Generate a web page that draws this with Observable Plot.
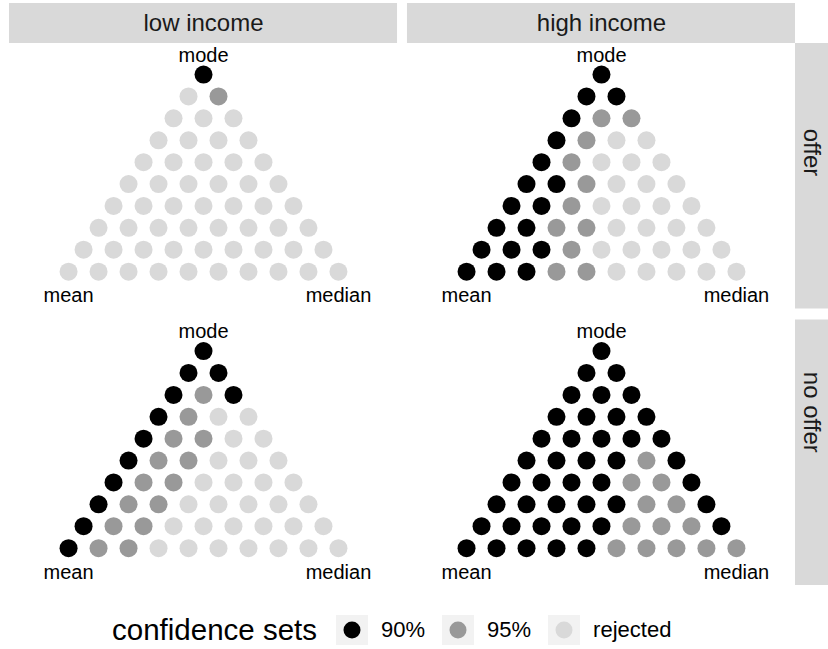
<!DOCTYPE html>
<html>
<head>
<meta charset="utf-8">
<script src="https://cdn.jsdelivr.net/npm/d3@7"></script>
<script src="https://cdn.jsdelivr.net/npm/@observablehq/plot@0.6"></script>
<style>
  body { margin: 0; background: #fff; font-family: "Liberation Sans", Arial, sans-serif; }
  #chart svg { display: block; }
  #legend { display: flex; align-items: center; height: 30px; margin-top: 25px; padding-left: 112px; color: #000; }
  #legend .title { font-size: 29.5px; margin-right: 19px; }
  #legend .key { width: 32px; height: 30px; background: #f2f2f2; margin-right: 13px; }
  #legend .lab { font-size: 22px; margin-right: 17px; }
</style>
</head>
<body>
<div id="chart"></div>
<div id="legend"></div>
<script>
// ---- data ----
const incomes = ["low income", "high income"];
const offers = ["offer", "no offer"];
const confidenceSets = ["90%", "95%", "rejected"];
const setColors = ["#000000", "#999999", "#d9d9d9"];
const topLabel = ["mode"];
const baseLabels = ["mean", "median"];

// codes: 0 = 90%, 1 = 95%, 2 = rejected ; rows from the mode (top) down to the mean–median base
const lowIncomeOffer = [
  [0],
  [2, 1],
  [2, 2, 2],
  [2, 2, 2, 2],
  [2, 2, 2, 2, 2],
  [2, 2, 2, 2, 2, 2],
  [2, 2, 2, 2, 2, 2, 2],
  [2, 2, 2, 2, 2, 2, 2, 2],
  [2, 2, 2, 2, 2, 2, 2, 2, 2],
  [2, 2, 2, 2, 2, 2, 2, 2, 2, 2]
];
const highIncomeOffer = [
  [0],
  [0, 0],
  [0, 1, 1],
  [0, 1, 2, 2],
  [0, 1, 2, 2, 2],
  [0, 0, 1, 2, 2, 2],
  [0, 0, 1, 2, 2, 2, 2],
  [0, 0, 1, 1, 2, 2, 2, 2],
  [0, 0, 0, 1, 2, 2, 2, 2, 2],
  [0, 0, 0, 1, 1, 2, 2, 2, 2, 2]
];
const lowIncomeNoOffer = [
  [0],
  [0, 0],
  [0, 1, 0],
  [0, 1, 2, 2],
  [0, 1, 1, 2, 2],
  [0, 1, 1, 2, 2, 2],
  [0, 1, 1, 2, 2, 2, 2],
  [0, 1, 1, 2, 2, 2, 2, 2],
  [0, 1, 1, 2, 2, 2, 2, 2, 2],
  [0, 1, 1, 2, 2, 2, 2, 2, 2, 2]
];
const highIncomeNoOffer = [
  [0],
  [0, 0],
  [0, 0, 0],
  [0, 0, 0, 0],
  [0, 0, 0, 0, 0],
  [0, 0, 0, 0, 1, 0],
  [0, 0, 0, 0, 1, 1, 0],
  [0, 0, 0, 0, 0, 1, 1, 0],
  [0, 0, 0, 0, 0, 1, 1, 1, 0],
  [0, 0, 0, 0, 0, 1, 1, 1, 1, 1]
];

// ---- build table ----
const panels = [
  {income: incomes[0], offer: offers[0], rows: lowIncomeOffer},
  {income: incomes[1], offer: offers[0], rows: highIncomeOffer},
  {income: incomes[0], offer: offers[1], rows: lowIncomeNoOffer},
  {income: incomes[1], offer: offers[1], rows: highIncomeNoOffer}
];
const n = lowIncomeOffer.length;
const cells = [];
for (const p of panels) {
  p.rows.forEach((row, i) => {
    row.forEach((code, j) => {
      cells.push({income: p.income, offer: p.offer, x: j - i / 2, y: (n - 1) - i, set: confidenceSets[code]});
    });
  });
}
const half = (n - 1) / 2;
const topLabels = [{text: topLabel[0], x: 0, y: n - 1}];
const bottomLabels = [
  {text: baseLabels[0], x: -half, y: 0},
  {text: baseLabels[1], x: half, y: 0}
];
const xDomain = [-6.47, 6.47];
const yDomain = [-1.707, 10.42];

const topStrips = incomes.map(d => ({income: d, offer: offers[0], y: yDomain[1]}));
const rightStrips = offers.map(d => ({income: incomes[1], offer: d, x: xDomain[1]}));

const chart = Plot.plot({
  width: 828,
  height: 590,
  marginTop: 43,
  marginLeft: 9,
  marginRight: 33,
  marginBottom: 5,
  style: {fontFamily: "'Liberation Sans', Arial, sans-serif", background: "#fff"},
  x: {domain: xDomain, axis: null},
  y: {domain: yDomain, axis: null},
  fx: {domain: incomes, axis: null, paddingInner: 0.025, paddingOuter: 0, round: false},
  fy: {domain: offers, axis: null, paddingInner: 0.0398, paddingOuter: 0, round: false},
  color: {domain: confidenceSets, range: setColors},
  marks: [
    // top strips
    Plot.rect(topStrips, {fx: "income", fy: "offer", y1: "y", y2: "y", insetTop: -40, fill: "#d9d9d9"}),
    Plot.text(topStrips, {fx: "income", fy: "offer", text: "income", frameAnchor: "top", dy: -20, fontSize: 24, fill: "#1a1a1a", lineAnchor: "middle"}),
    // right strips
    Plot.rect(rightStrips, {fx: "income", fy: "offer", x1: "x", x2: "x", insetRight: -33, fill: "#d9d9d9"}),
    Plot.text(rightStrips, {fx: "income", fy: "offer", text: "offer", frameAnchor: "right", dx: 16.5, rotate: 90, fontSize: 24, fill: "#1a1a1a", lineAnchor: "middle"}),
    // dots
    Plot.dot(cells, {fx: "income", fy: "offer", x: "x", y: "y", r: 9, fill: "set", stroke: null}),
    // vertex labels
    Plot.text(topLabels, {x: "x", y: "y", text: "text", dy: -19, fontSize: 20, fill: "#000", lineAnchor: "middle"}),
    Plot.text(bottomLabels, {x: "x", y: "y", text: "text", dy: 24, fontSize: 20, fill: "#000", lineAnchor: "middle"})
  ]
});
document.getElementById("chart").appendChild(chart);

// ---- legend ----
const color = chart.scale("color");
const leg = document.getElementById("legend");
const t = document.createElement("span");
t.className = "title";
t.textContent = "confidence sets";
leg.appendChild(t);
confidenceSets.forEach(s => {
  const k = document.createElement("span");
  k.className = "key";
  k.innerHTML = `<svg width="32" height="30"><circle cx="16" cy="15" r="8.5" fill="${color.apply(s)}"></circle></svg>`;
  leg.appendChild(k);
  const l = document.createElement("span");
  l.className = "lab";
  l.textContent = s;
  leg.appendChild(l);
});
</script>
</body>
</html>
